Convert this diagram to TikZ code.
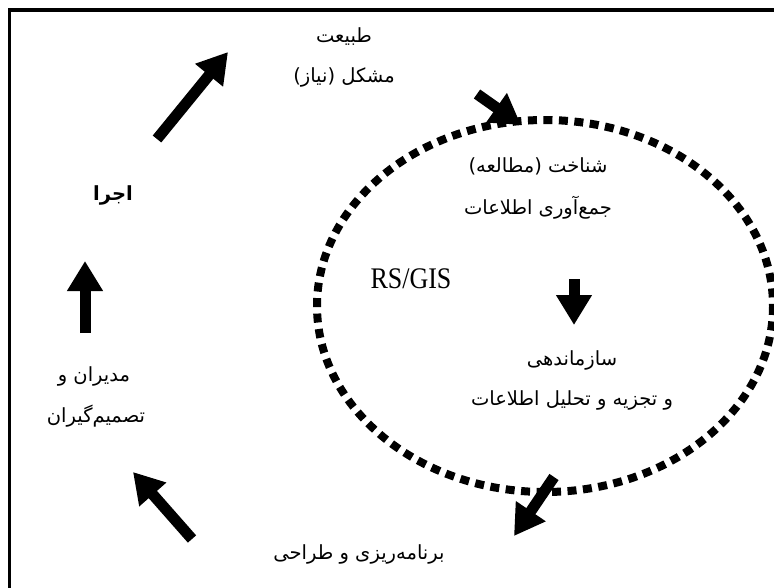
\documentclass[tikz,border=0pt]{standalone}
\usepackage{fontspec}
\setmainfont{Liberation Serif}
\newfontfamily\farsi[Script=Arabic]{DejaVu Sans}
\TeXXeTstate=1
\usetikzlibrary{arrows.meta}
\tikzset{
	flow/.style={line width=11pt, -{Triangle[length=30pt,width=34pt]}},
	fa/.style={font=\farsi\fontsize{19.5}{24}\selectfont, inner sep=1pt},
	dots/.style={line width=8pt, dash pattern=on 9pt off 6.5pt},
}
\newcommand{\rtl}[1]{\beginR #1\endR}

\begin{document}
\begin{tikzpicture}[x=1pt,y=-1pt]
		\useasboundingbox (0,0) rectangle (774,587);
		% frame
		\draw[line width=3.5pt] (9.5,600) -- (9.5,10) -- (800,10);
		% cycle
		\draw[dots] (545,306) ellipse [x radius=228, y radius=186];
		% text
		\node[fa] (nature) at (344,37) {\rtl{طبیعت}};
		\node[fa] (need) at (344,77) {\rtl{مشکل (نیاز)}};
		\node[fa] (study) at (538,166) {\rtl{شناخت (مطالعه)}};
		\node[fa] (collect) at (538,208) {\rtl{جمع‌آوری اطلاعات}};
		\node[font=\fontsize{26}{30}\selectfont, yscale=1.15] (rsgis) at (411,279) {RS/GIS};
		\node[fa] (organize) at (572,360) {\rtl{سازماندهی}};
		\node[fa] (analyse) at (572,400) {\rtl{و تجزیه و تحلیل اطلاعات}};
		\node[fa] (plan) at (359,554) {\rtl{برنامه‌ریزی و طراحی}};
		\node[fa] (managers) at (94,376) {\rtl{مدیران و}};
		\node[fa] (deciders) at (96,416) {\rtl{تصمیم‌گیران}};
		\node[fa, font=\farsi\bfseries\fontsize{19.5}{24}\selectfont] (run) at (113,195) {\rtl{اجرا}};
		% arrow ends
		\coordinate (a1) at (157,139);  \coordinate (b1) at (228,52);
		\coordinate (a2) at (477,94);   \coordinate (b2) at (521,125);
		\coordinate (a3) at (574,279);  \coordinate (b3) at (574,325);
		\coordinate (a4) at (554,477);  \coordinate (b4) at (514,536);
		\coordinate (a5) at (192,539);  \coordinate (b5) at (133,472);
		\coordinate (a6) at (85,333);   \coordinate (b6) at (85,261);
		% arrows
		\draw[flow] (a1) -- (b1);
		\draw[flow] (a2) -- (b2);
		\draw[flow] (a3) -- (b3);
		\draw[flow] (a4) -- (b4);
		\draw[flow] (a5) -- (b5);
		\draw[flow] (a6) -- (b6);
\end{tikzpicture}
\end{document}
